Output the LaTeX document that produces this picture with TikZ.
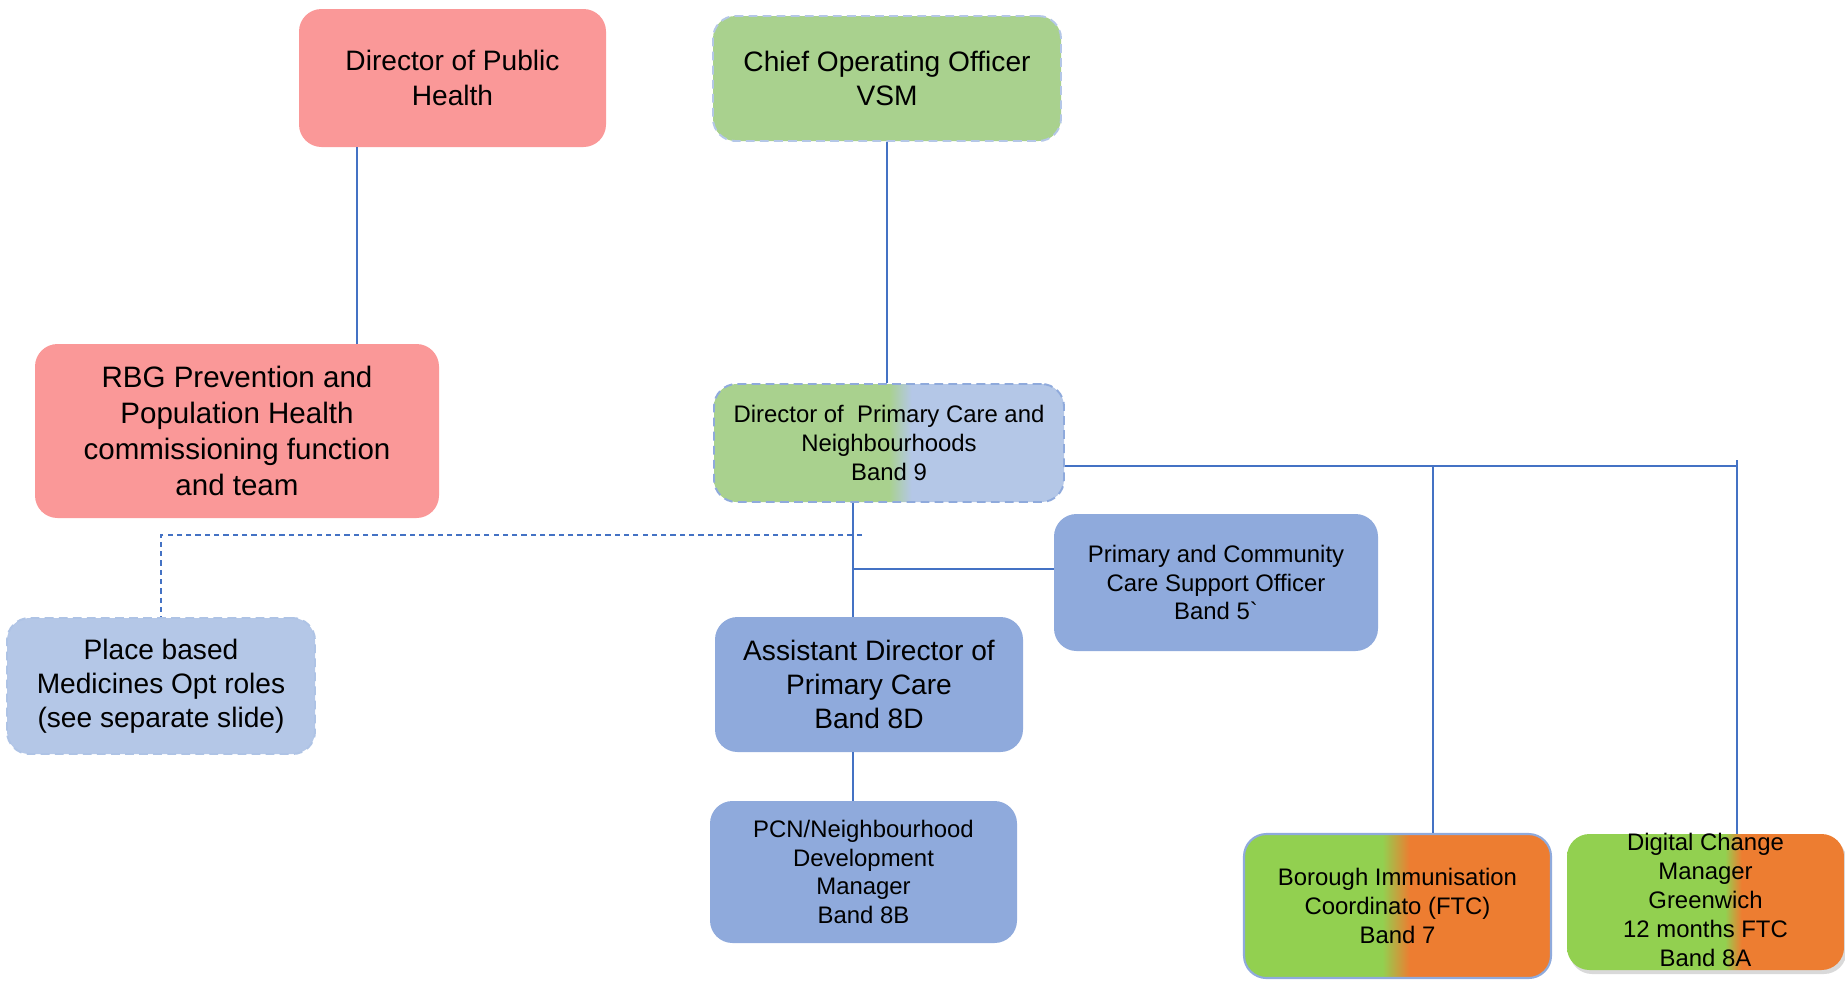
\documentclass[tikz,border=0pt]{standalone}
\usepackage{fontspec}
\setmainfont{Liberation Sans}
\usepackage{xcolor}
\usepackage{tikz}
\usetikzlibrary{shadows}

\definecolor{dphpink}{RGB}{250,152,152}
\definecolor{coogreen}{RGB}{169,209,142}
\definecolor{paleblue}{RGB}{180,199,231}
\definecolor{midblue}{RGB}{143,170,220}
\definecolor{limegreen}{RGB}{146,208,80}
\definecolor{ftcorange}{RGB}{237,125,49}
\definecolor{linkblue}{RGB}{68,114,196}

\newcommand{\bigrole}{\fontsize{16}{19.5}\selectfont}
\newcommand{\rbgrole}{\fontsize{16.8}{20.5}\selectfont}
\newcommand{\smallrole}{\fontsize{13.6}{16.4}\selectfont}

\pgfdeclarehorizontalshading{dpcshade}{100bp}{color(0bp)=(coogreen);
  color(50bp)=(coogreen); color(53.2bp)=(paleblue); color(100bp)=(paleblue)}
\pgfdeclarehorizontalshading{boroughshade}{100bp}{color(0bp)=(limegreen);
  color(47.5bp)=(limegreen); color(52bp)=(ftcorange); color(100bp)=(ftcorange)}
\pgfdeclarehorizontalshading{digitalshade}{100bp}{color(0bp)=(limegreen);
  color(53.5bp)=(limegreen); color(56.5bp)=(ftcorange); color(100bp)=(ftcorange)}

\begin{document}
\begin{tikzpicture}
  \tikzstyle{role} = [rounded corners=0.45cm, align=center, inner sep=2pt]
  \tikzstyle{dashrole} = [role, line width=1.1pt, dash pattern=on 5pt off 3pt]
  \tikzstyle{link} = [draw=linkblue, line width=0.75pt]

  \useasboundingbox (0,0) rectangle (36.9,-19.62);

  \node[role, fill=dphpink, minimum width=6.14cm, minimum height=2.76cm,
    font=\bigrole] (dph) at (9.05,-1.56)
    {Director of Public\\Health};
  \node[dashrole, fill=coogreen, draw=paleblue, minimum width=6.96cm,
    minimum height=2.5cm, font=\bigrole] (coo) at (17.74,-1.57)
    {Chief Operating Officer\\VSM};
  \node[role, fill=dphpink, minimum width=8.08cm, minimum height=3.48cm,
    font=\rbgrole] (rbg) at (4.74,-8.62)
    {RBG Prevention and\\Population Health\\commissioning function\\and team};
  \node[dashrole, shade, shading=dpcshade, draw=midblue, minimum width=7.0cm,
    minimum height=2.36cm, font=\smallrole] (dpc) at (17.78,-8.86)
    {Director of~ Primary Care and\\Neighbourhoods\\Band 9};
  \node[role, fill=midblue, minimum width=6.48cm, minimum height=2.74cm,
    font=\smallrole] (pccso) at (24.32,-11.65)
    {Primary and Community\\Care Support Officer\\Band 5\textasciigrave};
  \node[dashrole, fill=paleblue, draw=paleblue!85!midblue, minimum width=6.16cm,
    minimum height=2.72cm, font=\bigrole] (place) at (3.22,-13.72)
    {Place based\\Medicines Opt roles\\(see separate slide)};
  \node[role, fill=midblue, minimum width=6.16cm, minimum height=2.7cm,
    font=\bigrole] (adpc) at (17.38,-13.69)
    {Assistant Director of\\Primary Care\\Band 8D};
  \node[role, fill=midblue, minimum width=6.14cm, minimum height=2.84cm,
    font=\smallrole] (pcn) at (17.27,-17.44)
    {PCN/Neighbourhood\\Development\\Manager\\Band 8B};
  \node[role, shade, shading=boroughshade, draw=midblue, line width=1.2pt,
    minimum width=6.14cm, minimum height=2.88cm, font=\smallrole]
    (borough) at (27.95,-18.12)
    {Borough Immunisation\\Coordinato (FTC)\\Band 7};
  \node[role, shade, shading=digitalshade, minimum width=5.54cm,
    minimum height=2.72cm, font=\smallrole,
    drop shadow={opacity=0.3, shadow xshift=0.05cm, shadow yshift=-0.08cm}]
    (digital) at (34.11,-18.04)
    {\smash{\raisebox{-4pt}{\begin{tabular}{@{}c@{}}Digital Change\\Manager\\
      Greenwich\\12 months FTC\\Band 8A\end{tabular}}}};

  \coordinate (k1) at (7.14,0);
  \coordinate (k2) at (17.06,0);
  \coordinate (j0) at (17.24,-10.7);
  \coordinate (j1) at (17.06,-11.38);
  \coordinate (j2) at (34.74,-9.32);
  \coordinate (j3) at (34.74,-9.2);
  \coordinate (k3) at (28.66,0);

  \draw[link] (dph.south -| k1) -- (rbg.north -| k1);
  \draw[link] (coo.south) -- (coo.south |- dpc.north);
  \draw[link] (dpc.south -| k2) -- (adpc.north -| k2);
  \draw[link] (j1) -- (pccso.west |- j1);
  \draw[link] (adpc.south -| k2) -- (pcn.north -| k2);
  \draw[link, line width=1.1pt, dash pattern=on 3pt off 2.3pt] (j0) -| (place.north);
  \draw[link] (dpc.east |- j2) -- (j2);
  \draw[link] (j3) -- (digital.north -| j3);
  \draw[link] (k3 |- j2) -- (borough.north -| k3);
\end{tikzpicture}
\end{document}
